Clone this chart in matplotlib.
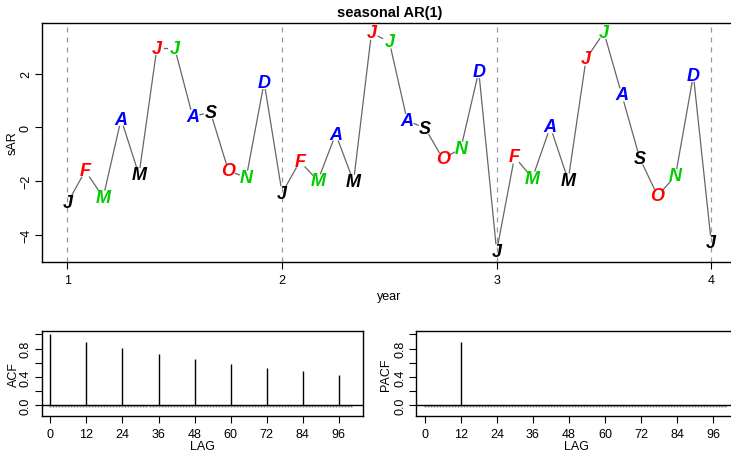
import numpy as np
import matplotlib
matplotlib.use('Agg')
import matplotlib.pyplot as plt
import matplotlib.transforms as mtransforms

plt.rcParams['font.family'] = ['Liberation Sans', 'DejaVu Sans']

# seasonal AR(1) series (monthly, years 1..4)
year = np.arange(37) / 12 + 1
sAR = [-2.82, -1.62, -2.61, 0.31, -1.77, 2.95, 2.95, 0.41, 0.56, -1.62, -1.87, 1.68,
       -2.45, -1.27, -1.99, -0.25, -2.02, 3.52, 3.19, 0.25, -0.03, -1.18, -0.78, 2.09,
       -4.62, -1.10, -1.89, 0.02, -1.97, 2.55, 3.54, 1.21, -1.15, -2.55, -1.81, 1.95,
       -4.29]
months = ['J', 'F', 'M', 'A', 'M', 'J', 'J', 'A', 'S', 'O', 'N', 'D']
month_cols = ['black', '#ff0000', '#00cd00', '#0000ff']

# ACF / PACF (seasonal lags only are non-zero)
acf_lags = [0, 12, 24, 36, 48, 60, 72, 84, 96]
acf_vals = [1.0, 0.90, 0.81, 0.73, 0.66, 0.59, 0.53, 0.48, 0.43]
pacf_lags = [12]
pacf_vals = [0.90]
all_lags = np.arange(0, 101)
lag_ticks = [0, 12, 24, 36, 48, 60, 72, 84, 96]

fig = plt.figure(figsize=(7.31, 4.56), dpi=100)

W, H = 731, 456
def box(l, t, r, b):
    return [l / W, 1 - b / H, (r - l) / W, (b - t) / H]

def r_style(ax):
    for s in ax.spines.values():
        s.set_linewidth(1.0)
    ax.tick_params(direction='out', length=5, width=0.8, labelsize=9)
    ax.tick_params(axis='x', pad=4)
    ax.tick_params(axis='y', pad=2)
    for lab in ax.get_yticklabels():
        lab.set_rotation(90)
        lab.set_va('center')

# ---- top panel ----
ax = fig.add_axes(box(41.7, 24.3, 737, 262.7))
ax.set_xlim(0.88, 4.12)
ax.set_ylim(-5.01, 3.88)
ax.set_xticks([1, 2, 3, 4])
ax.set_yticks([-4, -2, 0, 2])
ax.set_yticklabels(['\u22124', '\u22122', '0', '2'])
for v in [1, 2, 3, 4]:
    ax.axvline(v, color='#999999', linestyle=(0, (4, 4)), linewidth=0.9)

# line with gaps around the letters (type = 'c')
pts = ax.transData.transform(np.column_stack([year, sAR]))
gap = 7.5
for i in range(len(pts) - 1):
    p0, p1 = pts[i], pts[i + 1]
    d = p1 - p0
    n = np.hypot(*d)
    if n <= 2 * gap:
        continue
    u = d / n
    seg = ax.transData.inverted().transform(np.array([p0 + u * gap, p1 - u * gap]))
    ax.plot(seg[:, 0], seg[:, 1], color='#666666', linewidth=0.9)

for i, (x, y) in enumerate(zip(year, sAR)):
    ax.text(x, y, months[i % 12], color=month_cols[i % 4], fontsize=13,
            fontweight='bold', fontstyle='italic', ha='center', va='center')

ax.set_title('seasonal AR(1)', fontsize=10.5, fontweight='bold', pad=5)
ax.set_xlabel('year', fontsize=9, labelpad=3)
ax.set_ylabel('sAR', fontsize=9, labelpad=1)
r_style(ax)

# ---- ACF / PACF ----
def cor_panel(rect, lags, vals, ylab, lpad):
    a = fig.add_axes(rect)
    a.set_xlim(-2.9, 104)
    a.set_ylim(-0.144, 1.044)
    a.vlines(lags, 0, vals, color='black', linewidth=1.0)
    off = mtransforms.offset_copy(a.transData, fig=fig, x=0, y=-1.0, units='dots')
    a.plot(all_lags, np.zeros(len(all_lags)), linestyle='none', marker='o',
           markersize=0.7, color='#999999', transform=off)
    a.axhline(0, color='black', linewidth=1.0)
    a.set_xticks(lag_ticks)
    a.set_yticks([0, 0.2, 0.4, 0.6, 0.8, 1.0])
    a.set_yticklabels(['0.0', '', '0.4', '', '0.8', ''])
    a.set_xlabel('LAG', fontsize=9, labelpad=0)
    a.set_ylabel(ylab, fontsize=9, labelpad=lpad)
    r_style(a)
    return a

cor_panel(box(41.7, 332.3, 362.7, 416.7), acf_lags, acf_vals, 'ACF', 0)
cor_panel(box(416, 332.3, 737.3, 416.7), pacf_lags, pacf_vals, 'PACF', 2)

fig.savefig('out.png', dpi=100)
